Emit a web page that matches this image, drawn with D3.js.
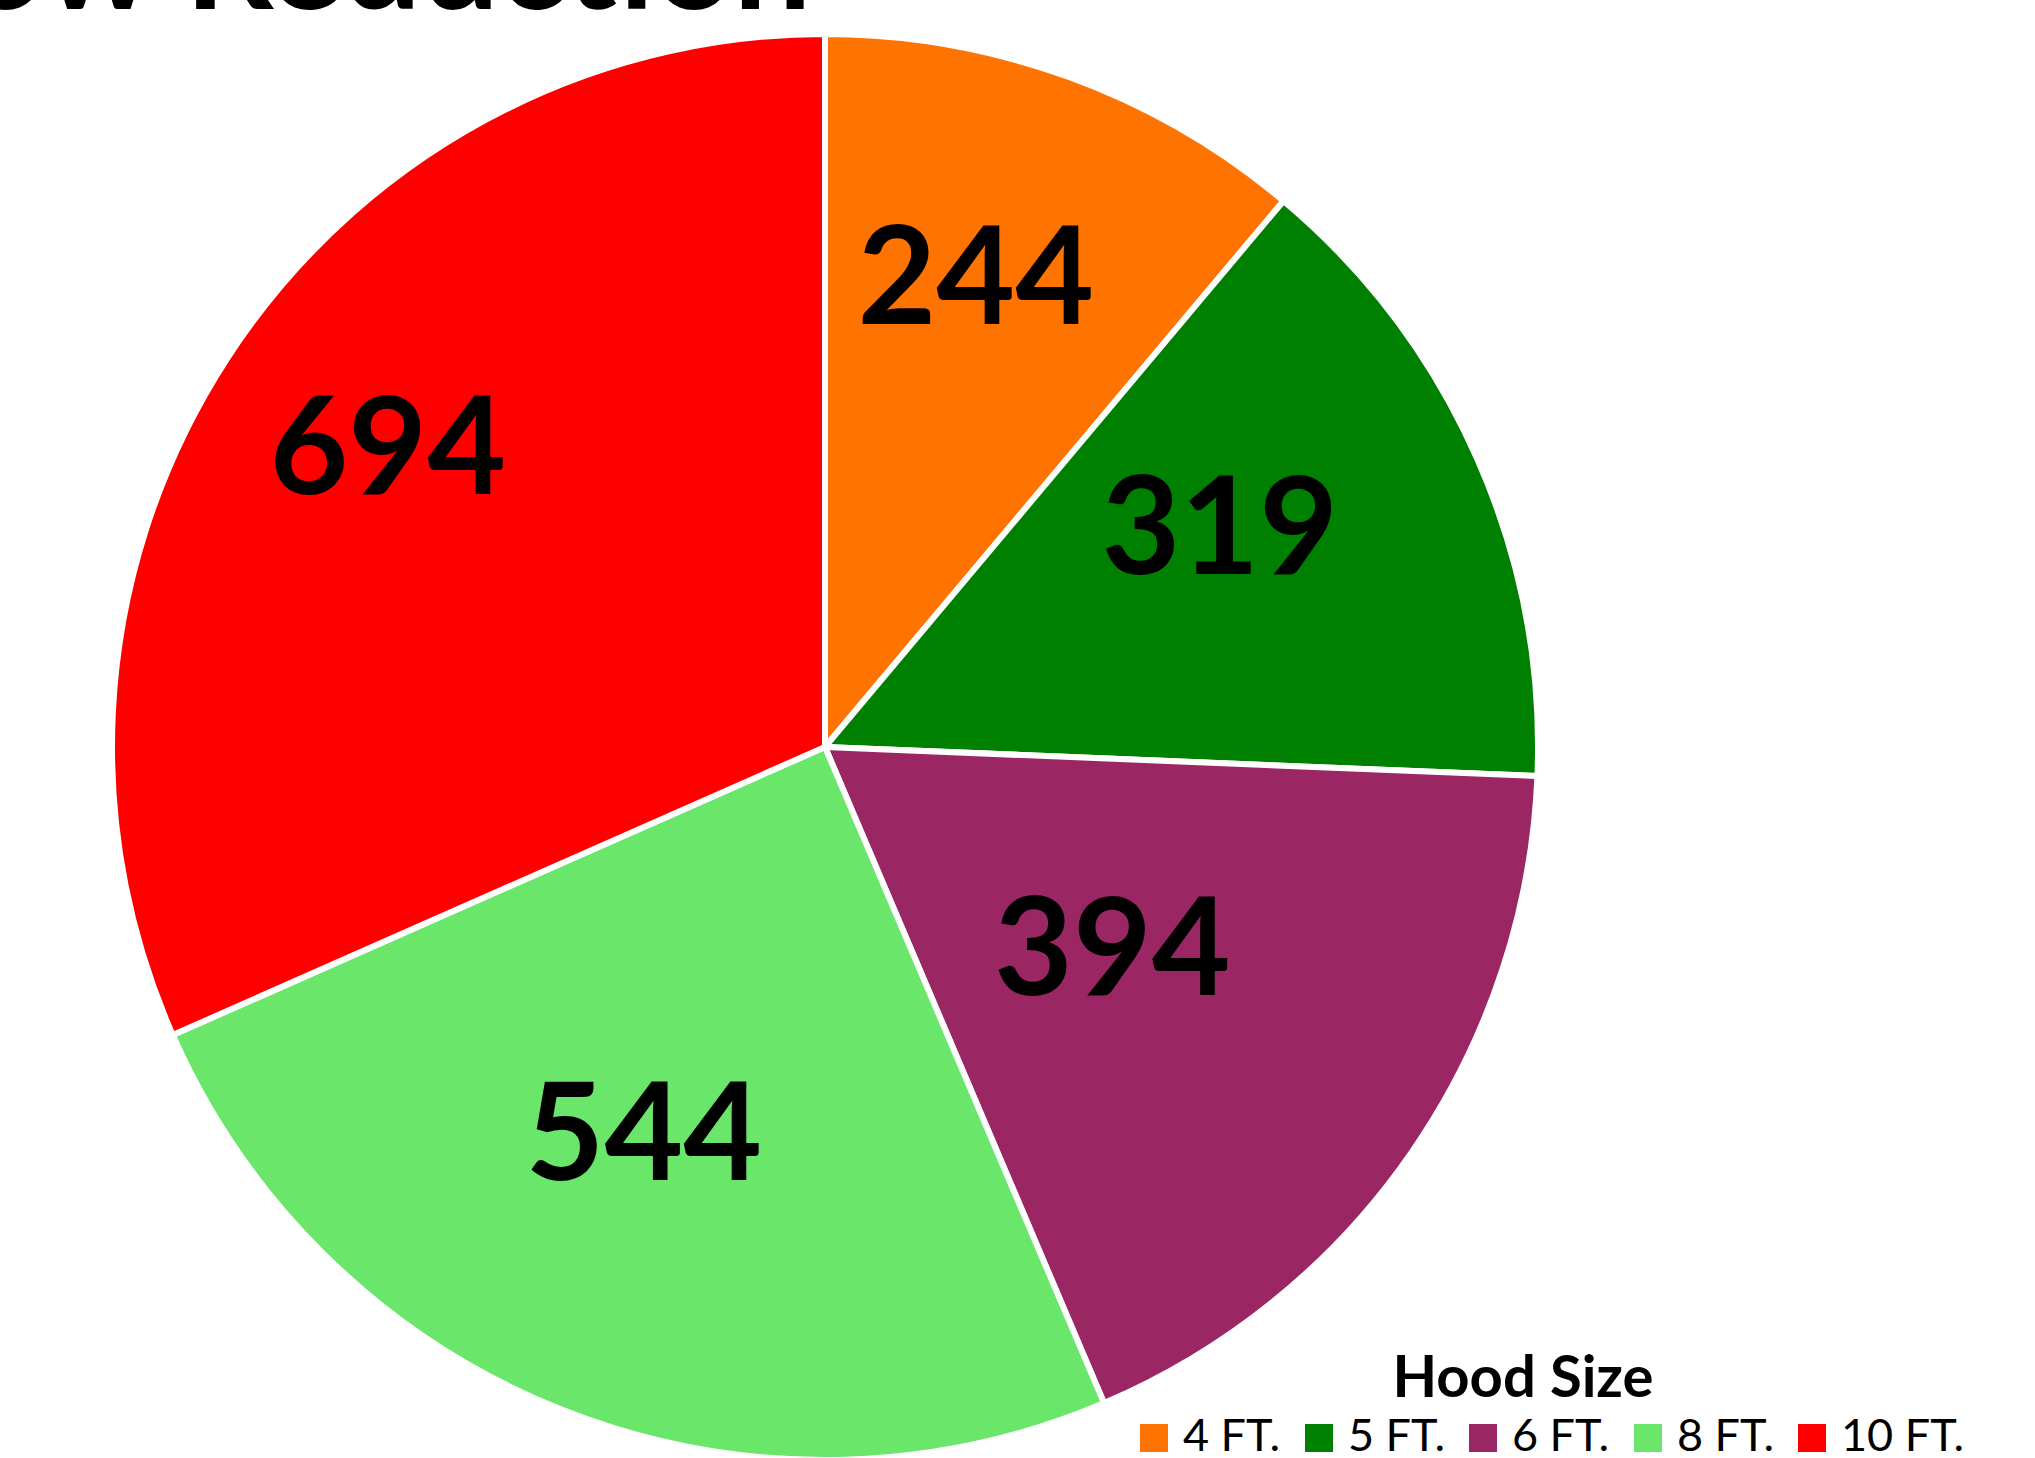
<!DOCTYPE html>
<html>
<head>
<meta charset="utf-8">
<script src="https://cdn.jsdelivr.net/npm/d3@7"></script>
<style>
  body { margin: 0; background: #fff; }
  svg { display: block; font-family: Lato, "Open Sans", sans-serif; }
</style>
</head>
<body>
<svg class="plot"></svg>
<script>
const categories = ['4 FT.', '5 FT.', '6 FT.', '8 FT.', '10 FT.'];
const values = [244, 319, 394, 544, 694];
const colors = ['#FF7300', '#008000', '#9A2763', '#6AE66A', '#FF0000'];
const titleText = 'Airflow Reduction';
const legendTitle = 'Hood Size';

const W = 2035, H = 1458;
const cx = 825, cy = 747, R = 713;
// label placement in the original was hand tuned: share of radius + angle nudge (deg)
const labelR = [0.695, 0.635, 0.49, 0.595, 0.745];
const labelNudge = [-2.3, -5.5, 0, 3.7, 1.5];

const svg = d3.select('.plot').attr('width', W).attr('height', H);

svg.append('text')
  .attr('x', 185).attr('y', 9)
  .style('font-size', '138px')
  .style('font-weight', 700)
  .text(titleText)
  .each(function () {
      // keep "Reduction" starting where it does in the original
      const full = this.getComputedTextLength();
      const tail = this.getSubStringLength(8, titleText.length - 8);
      d3.select(this).attr('x', 185 - (full - tail));
  });

const pie = d3.pie().sort(null).value(d => d);
const arcs = pie(values);
const arc = d3.arc().innerRadius(0).outerRadius(R);

const g = svg.append('g').attr('transform', `translate(${cx},${cy})`);

g.selectAll('.slice').data(arcs)
  .join('path')
  .attr('class', 'slice')
  .attr('d', arc)
  .attr('fill', (d, i) => colors[i])
  .attr('stroke', '#fff')
  .attr('stroke-width', 6)
  .attr('stroke-linejoin', 'round');

const midA = (d, i) => (d.startAngle + d.endAngle) / 2 + labelNudge[i] * Math.PI / 180;

g.selectAll('.lbl').data(arcs)
  .join('text')
  .attr('class', 'lbl')
  .attr('x', (d, i) => Math.sin(midA(d, i)) * R * labelR[i])
  .attr('y', (d, i) => -Math.cos(midA(d, i)) * R * labelR[i])
  .attr('text-anchor', 'middle')
  .attr('dy', '0.36em')
  .style('font-size', '136px')
  .style('font-weight', 700)
  .text(d => d.data);

// legend
const leg = svg.append('g');
leg.append('text')
  .attr('x', 1523).attr('y', 1397)
  .attr('text-anchor', 'middle')
  .style('font-size', '58px')
  .style('font-weight', 700)
  .text(legendTitle);

const step = [0, 165, 329, 494, 658];
const items = leg.selectAll('.item').data(categories)
  .join('g')
  .attr('class', 'item')
  .attr('transform', (d, i) => `translate(${1140 + step[i]},1424)`);
items.append('rect')
  .attr('width', 28).attr('height', 28)
  .attr('fill', (d, i) => colors[i]);
items.append('text')
  .attr('x', 43).attr('y', 27)
  .style('font-size', '45px')
  .text(d => d);
</script>
</body>
</html>
